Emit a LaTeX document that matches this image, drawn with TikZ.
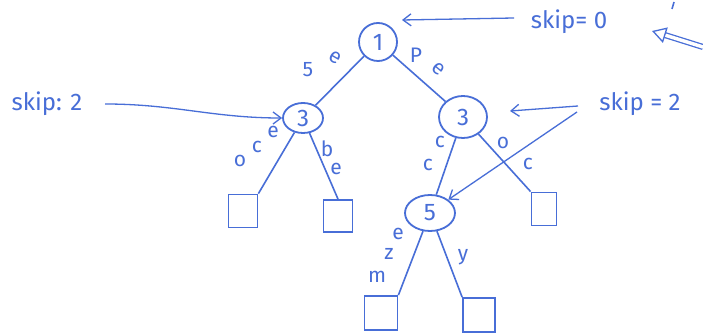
\documentclass[tikz,border=0pt]{standalone}
\usepackage{fontspec}
\setmainfont{Fira Sans}
\usetikzlibrary{arrows.meta,shapes.geometric}
\definecolor{ink}{RGB}{72,110,215}
\tikzset{
  ink/.style={draw=ink, line width=1.8pt, text=ink},
  inode/.style={ink, ellipse, inner sep=0pt, font=\fontsize{24}{26}\selectfont},
  leaf/.style={ink, rectangle, inner sep=0pt},
  edge/.style={draw=ink, line width=1.6pt},
  lbl/.style={text=ink, font=\fontsize{21}{23}\selectfont, inner sep=0pt},
  ann/.style={text=ink, font=\fontsize{24}{26}\selectfont, inner sep=1pt},
  ptr/.style={draw=ink, line width=1.3pt, -{Straight Barb[length=8pt,width=12pt]}},
}
\begin{document}
\begin{tikzpicture}[x=1pt,y=-1pt]
\useasboundingbox[fill=white] (0,0) rectangle (703,336);
% inner nodes
\node[inode, minimum width=38, minimum height=38] (n1) at (378,42) {1};
\node[inode, minimum width=40, minimum height=30] (l3) at (303,118) {3};
\node[inode, minimum width=48, minimum height=42] (r3) at (463,117) {3};
\node[inode, minimum width=50, minimum height=36] (n5) at (430,213) {5};
% leaves
\node[leaf, minimum width=29, minimum height=33] (a) at (243,211) {};
\node[leaf, minimum width=29, minimum height=32] (b) at (338,216) {};
\node[leaf, minimum width=25, minimum height=33] (c) at (544,209) {};
\node[leaf, minimum width=33, minimum height=34] (d) at (381,313) {};
\node[leaf, minimum width=32, minimum height=34] (e) at (479,315) {};
% edges
\draw[edge] (n1) -- (l3);
\draw[edge] (n1) -- (r3);
\draw[edge] (l3) -- (a.north east);
\draw[edge] (l3) -- (b.north);
\draw[edge] (r3) -- (n5);
\draw[edge] (r3) -- (c.north west);
\draw[edge] (n5) -- (d.north east);
\draw[edge] (n5) -- (e.north west);
% edge labels
\node[lbl] (t1) at (308,70) {5};
\node[lbl, rotate=-30] (t2) at (335,58) {e};
\node[lbl] (t3a) at (416,55) {P};
\node[lbl, rotate=-40] (t3b) at (438,69) {e};
\node[lbl] (t4a) at (240,161) {o};
\node[lbl] (t4b) at (257,147) {c};
\node[lbl] (t4c) at (273,132) {e};
\node[lbl] (t5a) at (327,149) {b};
\node[lbl] (t5b) at (336,169) {e};
\node[lbl] (t6a) at (440,142) {c};
\node[lbl] (t6b) at (428,165) {c};
\node[lbl] (t7a) at (503,143) {o};
\node[lbl] (t7b) at (528,164) {c};
\node[lbl] (t8a) at (398,234) {e};
\node[lbl] (t8b) at (389,254) {z};
\node[lbl] (t8c) at (377,277) {m};
\node[lbl] (t9) at (463,257) {y};
% skip annotations
\node[ann] (s0) at (569,22) {skip= 0};
\node[ann] (s2l) at (47,104) {skip: 2};
\node[ann] (s2r) at (640,104) {skip = 2};
\coordinate (p1) at (514,18);
\coordinate (p1e) at (402,20);
\coordinate (p2) at (578,106);
\coordinate (p2e) at (510,111);
\coordinate (p3) at (577,112);
\coordinate (q1) at (105,104);
\draw[ptr] (p1) -- (p1e);
\draw[ptr] (q1) to[out=0,in=180] (l3.west);
\draw[ptr] (p2) -- (p2e);
\draw[ptr] (p3) -- (n5.north east);
% double hollow arrow
\coordinate (h0) at (703,47);
\coordinate (h1) at (652,31);
\draw[draw=ink, line width=1.3pt, double=white, double distance=3.5pt, -{Triangle[open, length=14pt, width=16pt]}] (h0) -- (h1);
\coordinate (m0) at (674,2);
\coordinate (m1) at (672,9);
\draw[edge] (m0) -- (m1);
\end{tikzpicture}
\end{document}
